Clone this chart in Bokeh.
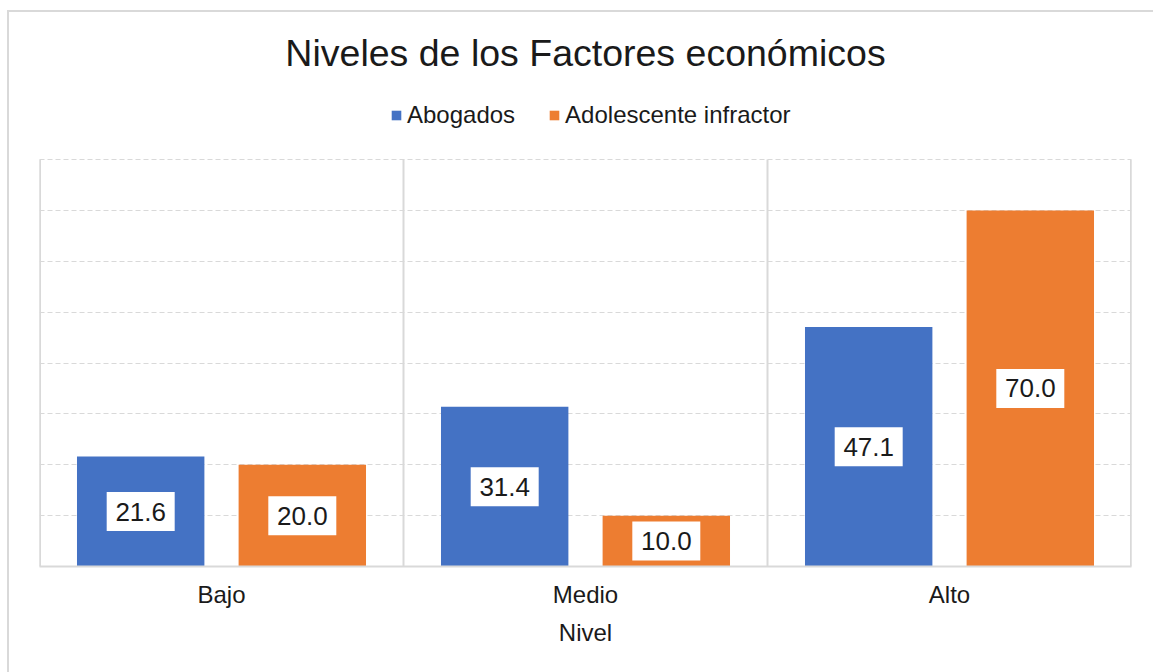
from bokeh.plotting import figure
from bokeh.models import Range1d, FixedTicker, ColumnDataSource, Legend, LegendItem
from bokeh.embed import file_html
from bokeh.resources import INLINE
from bokeh.core.properties import value

title_text = "Niveles de los Factores económicos"
x_title = "Nivel"
categories = ["Bajo", "Medio", "Alto"]
series_names = ["Abogados", "Adolescente infractor"]
abogados = [21.6, 31.4, 47.1]
adolescente = [20.0, 10.0, 70.0]
y_ticks = [10, 20, 30, 40, 50, 60, 70, 80]
colors = ["#4472C4", "#ED7D31"]

FONT = "Liberation Sans"
TXT = "#1a1a1a"
GRID = "#d9d9d9"

W, H = 1153, 672
FRAME_TOP_PX = 159      # where value 80 sits on the canvas
FRAME_BOTTOM_PX = 566   # where value 0 sits on the canvas
n = len(categories)
centers = [i + 0.5 for i in range(n)]
offset = 0.222
bar_w = 0.35

ppu = (FRAME_BOTTOM_PX - FRAME_TOP_PX) / y_ticks[-1]
y_top = FRAME_BOTTOM_PX / ppu          # frame extends up to the canvas top
title_y = y_top - 52 / ppu

p = figure(width=W, height=H,
           x_range=Range1d(0, n), y_range=Range1d(0, y_top),
           output_backend="svg", toolbar_location=None, title=None,
           min_border_left=39, min_border_right=22,
           min_border_top=0, min_border_bottom=H - FRAME_BOTTOM_PX)
p.outline_line_color = None
p.background_fill_color = None
p.border_fill_color = None
p.styles = {
    "background-color": "white",
    "background-image": "linear-gradient(#d9d9d9, #d9d9d9), linear-gradient(#d9d9d9, #d9d9d9)",
    "background-size": "2px 100%, 100% 2px",
    "background-position": "7px 10px, 7px 10px",
    "background-repeat": "no-repeat",
}

# grids
p.xgrid.visible = False
p.ygrid.ticker = FixedTicker(ticks=y_ticks)
p.ygrid.grid_line_color = GRID
p.ygrid.grid_line_width = 1
p.ygrid.grid_line_dash = "5 3"

# category separators (plot-area edges and boundaries)
bounds = list(range(n + 1))
p.segment(x0=bounds, y0=[0] * len(bounds), x1=bounds, y1=[y_ticks[-1]] * len(bounds),
          line_color=GRID, line_width=2)
p.segment(x0=[0, n], y0=[0, 0], x1=[0, n], y1=[y_ticks[-1]] * 2,
          line_color=GRID, line_width=3)

# axes
p.yaxis.visible = False
p.xaxis.ticker = FixedTicker(ticks=centers)
p.xaxis.major_label_overrides = {c: name for c, name in zip(centers, categories)}
p.xaxis.axis_line_color = GRID
p.xaxis.axis_line_width = 2
p.xaxis.major_tick_line_color = None
p.xaxis.minor_tick_line_color = None
p.xaxis.major_label_text_font = FONT
p.xaxis.major_label_text_font_size = "24px"
p.xaxis.major_label_text_color = TXT
p.xaxis.major_label_standoff = 8
p.xaxis.axis_label = x_title
p.xaxis.axis_label_text_font = FONT
p.xaxis.axis_label_text_font_size = "24px"
p.xaxis.axis_label_text_font_style = "normal"
p.xaxis.axis_label_text_color = TXT
p.xaxis.axis_label_standoff = 8

renderers = []
for k, vals in enumerate([abogados, adolescente]):
    sgn = -1 if k == 0 else 1
    src = ColumnDataSource(dict(
        x=[c + sgn * offset for c in centers],
        top=vals,
        mid=[v / 2 for v in vals],
        lab=[f"{v:.1f}" for v in vals],
    ))
    r = p.vbar(x="x", top="top", width=bar_w, bottom=0, source=src,
               fill_color=colors[k], line_color=None)
    renderers.append(r)
    p.rect(x="x", y="mid", width=68, height=39, width_units="screen",
           height_units="screen", source=src, fill_color="white", line_color=None)
    p.text(x="x", y="mid", text="lab", source=src, text_align="center",
           text_baseline="middle", text_font=value(FONT), text_font_size="26px",
           text_color=TXT)

# title
p.text(x=[n / 2], y=[title_y], text=[title_text], text_align="center",
       text_baseline="middle", text_font=value(FONT), text_font_size="37.5px",
       text_color=TXT)

legend = Legend(items=[LegendItem(label=series_names[i], renderers=[renderers[i]]) for i in range(2)],
                orientation="horizontal", location=(351, 437))
legend.label_text_font = FONT
legend.label_text_font_size = "24px"
legend.label_text_color = TXT
legend.glyph_width = 12
legend.glyph_height = 12
legend.label_standoff = 5
legend.spacing = 33
legend.border_line_color = None
legend.background_fill_alpha = 0
legend.padding = 0
legend.margin = 0
p.add_layout(legend, "center")

open("out.html", "w").write(file_html(p, INLINE))
